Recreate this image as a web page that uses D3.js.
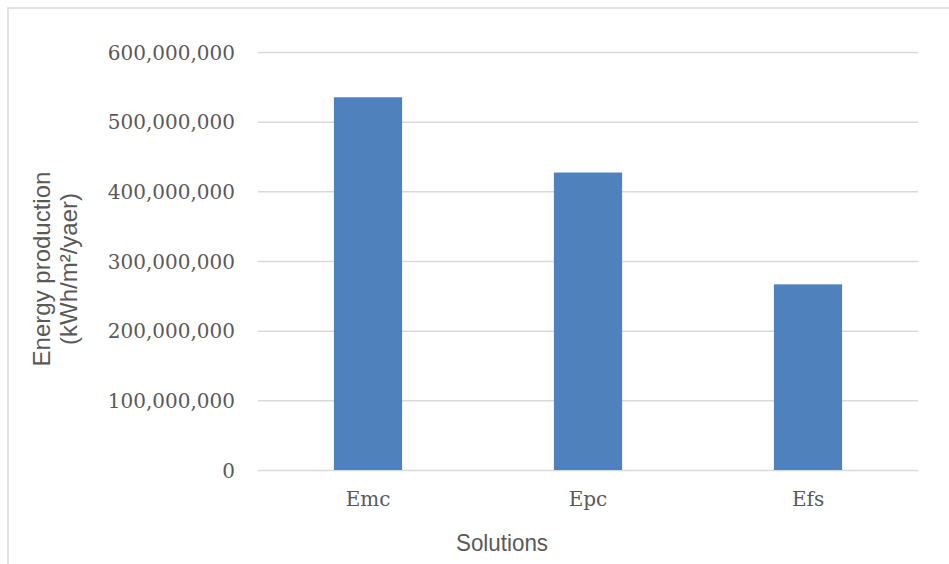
<!DOCTYPE html>
<html>
<head>
<meta charset="utf-8">
<script src="https://cdn.jsdelivr.net/npm/d3@7"></script>
<style>
  html, body { margin: 0; padding: 0; background: #fff; }
  svg { display: block; }
</style>
</head>
<body>
<svg id="chart" width="949" height="564"></svg>
<script>
// Annual energy production per solution
const categories = ["Emc", "Epc", "Efs"];
const production = [535000000, 427000000, 266500000];
const yTicks = [0, 100000000, 200000000, 300000000, 400000000, 500000000, 600000000];
const yTitleLines = ["Energy production", "(kWh/m\u00B2/yaer)"];
const xTitle = "Solutions";

const svg = d3.select("#chart");
const W = 949, H = 564;
const plot = { left: 258, right: 918, top: 52, bottom: 470 };

// chart frame
svg.append("rect")
  .attr("x", 8).attr("y", 8)
  .attr("width", W + 20).attr("height", H + 20)
  .attr("fill", "#fff")
  .attr("stroke", "#d9d9d9")
  .attr("stroke-width", 1.5);

const x = d3.scaleBand()
  .domain(categories)
  .range([plot.left, plot.right])
  .paddingInner(0.69)
  .paddingOuter(0.345);

const y = d3.scaleLinear()
  .domain([0, 600000000])
  .range([plot.bottom, plot.top]);

const fmt = d3.format(",");

// horizontal gridlines + tick labels
const yAxis = d3.axisLeft(y)
  .tickValues(yTicks)
  .tickSize(-(plot.right - plot.left))
  .tickPadding(23)
  .tickFormat(fmt);

const gy = svg.append("g")
  .attr("transform", `translate(${plot.left},0)`)
  .call(yAxis);
gy.select(".domain").remove();
gy.selectAll(".tick line")
  .attr("stroke", "#d9d9d9")
  .attr("stroke-width", 1.5);
gy.selectAll(".tick text")
  .attr("fill", "#595959")
  .attr("font-family", "'DejaVu Serif', serif")
  .attr("font-size", 20)
  .attr("dy", "0.36em");

// bars
svg.append("g")
  .selectAll("rect")
  .data(categories.map((c, i) => ({ c, v: production[i] })))
  .join("rect")
  .attr("x", d => x(d.c))
  .attr("width", x.bandwidth())
  .attr("y", d => y(d.v))
  .attr("height", d => y(0) - y(d.v))
  .attr("fill", "#4f81bd");

// category labels
const xAxis = d3.axisBottom(x).tickSize(0).tickPadding(22);
const gx = svg.append("g")
  .attr("transform", `translate(0,${plot.bottom})`)
  .call(xAxis);
gx.select(".domain").remove();
gx.selectAll(".tick text")
  .attr("fill", "#595959")
  .attr("font-family", "'DejaVu Serif', serif")
  .attr("font-size", 20);

// axis titles
svg.append("text")
  .attr("x", 502).attr("y", 551)
  .attr("text-anchor", "middle")
  .attr("fill", "#595959")
  .attr("font-family", "'Liberation Sans', Arial, sans-serif")
  .attr("font-size", 24)
  .attr("textLength", 92)
  .attr("lengthAdjust", "spacingAndGlyphs")
  .text(xTitle);

const yt = svg.append("text")
  .attr("transform", "translate(0,269) rotate(-90)")
  .attr("text-anchor", "middle")
  .attr("fill", "#595959")
  .attr("font-family", "'Liberation Sans', Arial, sans-serif")
  .attr("font-size", 24);
yt.selectAll("tspan")
  .data(yTitleLines)
  .join("tspan")
  .attr("x", 0)
  .attr("y", (d, i) => 50 + i * 27)
  .text(d => d);
</script>
</body>
</html>
